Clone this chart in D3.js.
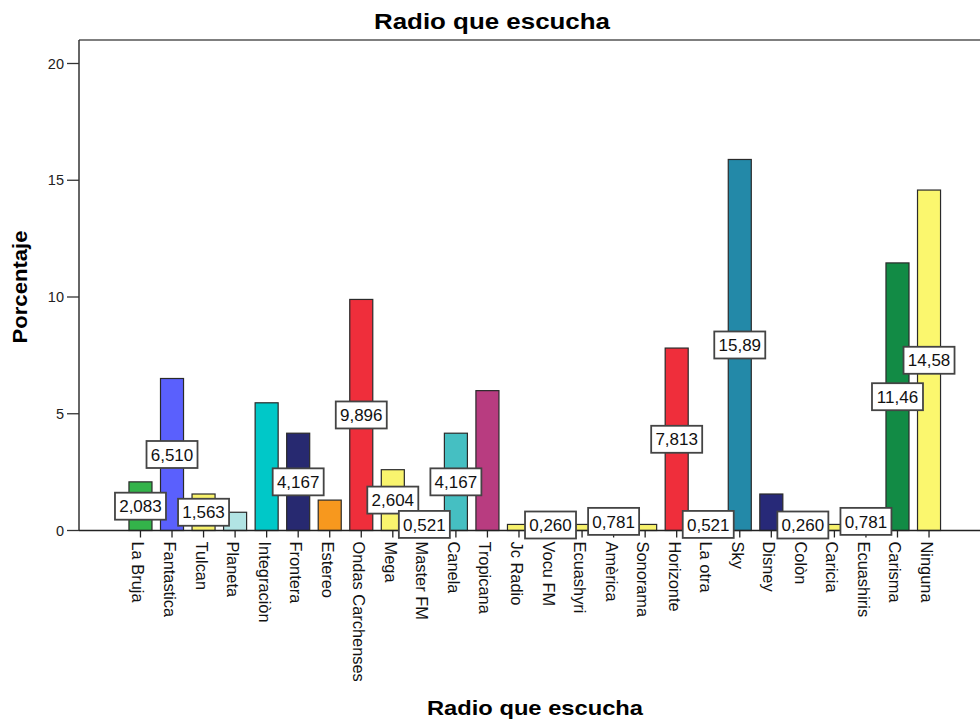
<!DOCTYPE html>
<html>
<head>
<meta charset="utf-8">
<script src="https://cdn.jsdelivr.net/npm/d3@7"></script>
<style>
  html, body { margin: 0; padding: 0; background: #fff; }
  svg { display: block; font-family: Arial, "Liberation Sans", sans-serif; }
</style>
</head>
<body>
<svg id="chart" width="980" height="721"></svg>
<script>
const categories = ["La Bruja","Fantastica","Tulcan","Planeta","Integraciòn","Frontera","Estereo","Ondas Carchenses","Mega","Master FM","Canela","Tropicana","Jc Radio","Vocu FM","Ecuashyri","Amèrica","Sonorama","Horizonte","La otra","Sky","Disney","Colòn","Caricia","Ecuashiris","Carisma","Ninguna"];
const values = [2.083, 6.510, 1.563, 0.781, 5.469, 4.167, 1.302, 9.896, 2.604, 0.521, 4.167, 5.990, 0.260, 0.260, 0.260, 0.781, 0.260, 7.813, 0.521, 15.89, 1.563, 0.260, 0.260, 0.781, 11.46, 14.58];
const showLabel = [1,1,1,0,0,1,0,1,1,1,1,0,0,1,0,1,0,1,1,1,0,1,0,1,1,1];
const colors = ["#33b34a","#5a60fd","#f8f26c","#b2e4e4","#00c8c8","#272970","#f7981e","#ef2e3b","#f9f46e","#c9c9c9","#45bfc2","#b83c80","#f8f26c","#d9d9d9","#f8f26c","#e0e0e0","#f8f26c","#ef2e3b","#e6e6e6","#2389a8","#272978","#e0e0e0","#f8f26c","#e0e0e0","#128b45","#fbf76e"];
const yTicks = [0, 5, 10, 15, 20];

const svg = d3.select("#chart");
const plotLeft = 79, plotTop = 40, baseY = 530.5;

const x = d3.scaleBand().domain(categories).range([124.7, 944.8]).paddingInner(0.27).paddingOuter(0.135);
const y = d3.scaleLinear().domain([0, 20]).range([baseY, 63.5]);

// frame
svg.append("line").attr("x1", plotLeft).attr("x2", 980).attr("y1", plotTop).attr("y2", plotTop)
  .attr("stroke", "#555").attr("stroke-width", 1.5);
svg.append("line").attr("x1", plotLeft).attr("x2", plotLeft).attr("y1", plotTop).attr("y2", baseY)
  .attr("stroke", "#333").attr("stroke-width", 1.5);

// y axis ticks
const yAxis = svg.append("g");
yTicks.forEach(t => {
  yAxis.append("line").attr("x1", 67).attr("x2", plotLeft).attr("y1", y(t)).attr("y2", y(t))
    .attr("stroke", "#333").attr("stroke-width", 1.3);
  yAxis.append("text").attr("x", 64).attr("y", y(t)).attr("dy", "0.36em")
    .attr("text-anchor", "end").attr("font-size", 14.5).attr("fill", "#222").text(t);
});

// bars
svg.append("g").selectAll("rect").data(categories).join("rect")
  .attr("x", d => x(d))
  .attr("y", (d, i) => y(values[i]))
  .attr("width", x.bandwidth())
  .attr("height", (d, i) => baseY - y(values[i]))
  .attr("fill", (d, i) => colors[i])
  .attr("stroke", "#2a2a2a").attr("stroke-width", 1.2);

// x baseline
svg.append("line").attr("x1", plotLeft).attr("x2", 980).attr("y1", baseY).attr("y2", baseY)
  .attr("stroke", "#222").attr("stroke-width", 1.5);

// x ticks + labels
const xg = svg.append("g");
categories.forEach(c => {
  const cx = x(c) + x.bandwidth() / 2;
  xg.append("line").attr("x1", cx).attr("x2", cx).attr("y1", baseY).attr("y2", baseY + 7)
    .attr("stroke", "#222").attr("stroke-width", 1.3);
  xg.append("text")
    .attr("transform", `translate(${cx - 8},${baseY + 11}) rotate(90)`)
    .attr("font-size", 16.4).attr("fill", "#111").text(c);
});

// value labels
const fmt = v => (v >= 10 ? v.toFixed(2) : v.toFixed(3)).replace(".", ",");
const lg = svg.append("g");
categories.forEach((c, i) => {
  if (!showLabel[i]) return;
  const cx = x(c) + x.bandwidth() / 2;
  const cy = Math.min(y(values[i] / 2), 525);
  const w = 51, h = 27;
  lg.append("rect").attr("x", cx - w / 2).attr("y", cy - h / 2).attr("width", w).attr("height", h)
    .attr("fill", "#fff").attr("stroke", "#444").attr("stroke-width", 1.8);
  lg.append("text").attr("x", cx).attr("y", cy).attr("dy", "0.36em")
    .attr("text-anchor", "middle").attr("font-size", 17).attr("fill", "#111").text(fmt(values[i]));
});

// titles
svg.append("text").attr("x", 492).attr("y", 29).attr("text-anchor", "middle")
  .attr("font-size", 22).attr("font-weight", "bold").attr("fill", "#000")
  .attr("textLength", 236).attr("lengthAdjust", "spacingAndGlyphs").text("Radio que escucha");
svg.append("text").attr("x", 535).attr("y", 715).attr("text-anchor", "middle")
  .attr("font-size", 21).attr("font-weight", "bold").attr("fill", "#000")
  .attr("textLength", 216).attr("lengthAdjust", "spacingAndGlyphs").text("Radio que escucha");
svg.append("text").attr("transform", "translate(27,287) rotate(-90)").attr("text-anchor", "middle")
  .attr("font-size", 21).attr("font-weight", "bold").attr("fill", "#000")
  .attr("textLength", 113).attr("lengthAdjust", "spacingAndGlyphs").text("Porcentaje");
</script>
</body>
</html>
